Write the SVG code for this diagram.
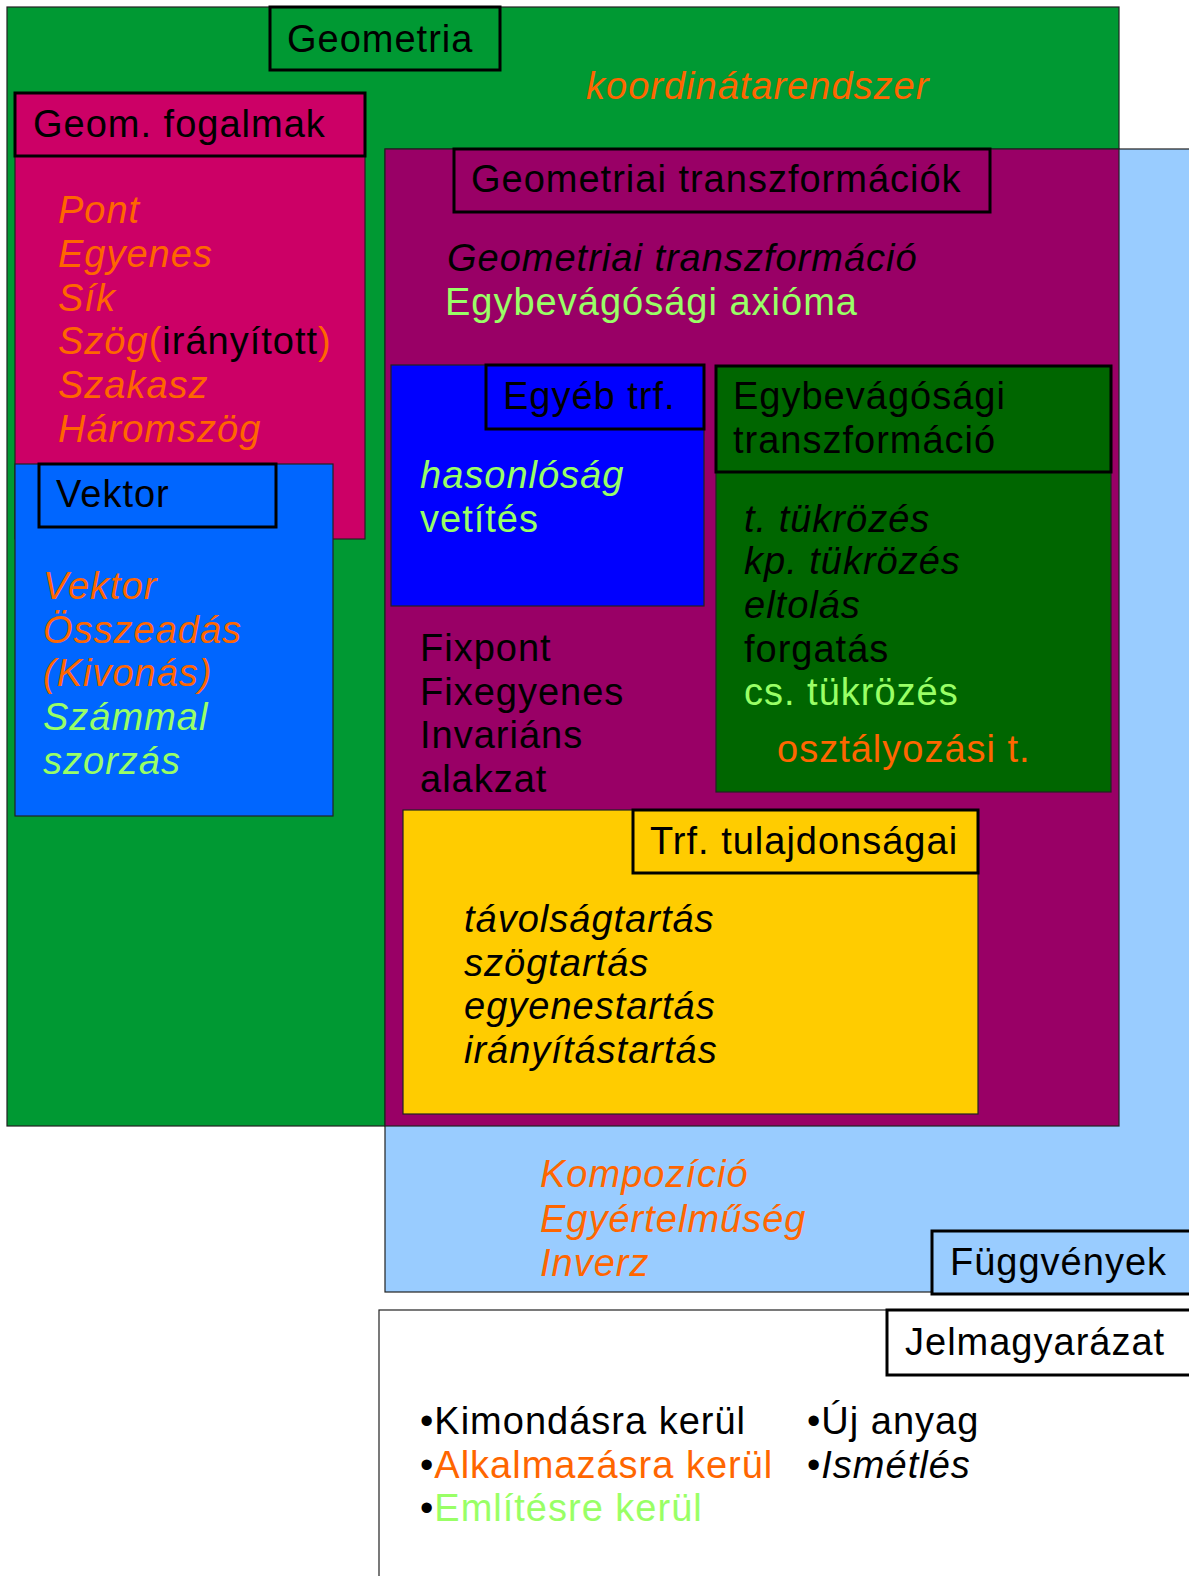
<svg xmlns="http://www.w3.org/2000/svg" width="1189" height="1576" viewBox="0 0 1189 1576">
<style>
text{font-family:"Liberation Sans",Arial,sans-serif;font-size:38px;letter-spacing:1px;fill:#000}
.i{font-style:italic}
.o{fill:#FF6600}
.g{fill:#99FF66}
.area{stroke:#222;stroke-width:1.2}
.hdr{stroke:#000;stroke-width:3}
</style>
<rect width="1189" height="1576" fill="#fff"/>
<g id="geometria">
<rect class="area" x="7" y="7" width="1112" height="1119" fill="#009933"/>
<rect class="hdr" x="270" y="7" width="230" height="63" fill="#009933"/>
<text x="287" y="52">Geometria</text>
<text class="i o" x="586" y="99">koordinátarendszer</text>
</g>
<g id="fuggvenyek">
<rect class="area" x="385" y="149" width="810" height="1143" fill="#99CCFF"/>
<text class="i o" x="540" y="1187">Kompozíció</text>
<text class="i o" x="540" y="1232">Egyértelműség</text>
<text class="i o" x="540" y="1276">Inverz</text>
<rect class="hdr" x="932" y="1231" width="262" height="63" fill="#99CCFF"/>
<text x="950" y="1275">Függvények</text>
</g>
<g id="geom-fogalmak">
<rect class="area" x="15" y="93" width="350" height="446" fill="#CC0066"/>
<rect class="hdr" x="15" y="93" width="350" height="63" fill="#CC0066"/>
<text x="33" y="137">Geom. fogalmak</text>
<text class="i o" x="58" y="223">Pont</text>
<text class="i o" x="58" y="267">Egyenes</text>
<text class="i o" x="58" y="311">Sík</text>
<text x="58" y="354"><tspan class="i o">Szög</tspan><tspan class="o">(</tspan><tspan>irányított</tspan><tspan class="o">)</tspan></text>
<text class="i o" x="58" y="398">Szakasz</text>
<text class="i o" x="58" y="442">Háromszög</text>
</g>
<g id="vektor">
<rect class="area" x="15" y="464" width="318" height="352" fill="#0066FF"/>
<rect class="hdr" x="39" y="464" width="237" height="63" fill="#0066FF"/>
<text x="56" y="507">Vektor</text>
<text class="i o" x="43" y="599">Vektor</text>
<text class="i o" x="43" y="643">Összeadás</text>
<text class="i o" x="43" y="686">(Kivonás)</text>
<text class="i g" x="43" y="730">Számmal</text>
<text class="i g" x="43" y="774">szorzás</text>
</g>
<g id="geom-transzformaciok">
<rect class="area" x="385" y="149" width="734" height="977" fill="#990066"/>
<rect class="hdr" x="454" y="149" width="536" height="63" fill="#990066"/>
<text x="471" y="192">Geometriai transzformációk</text>
<text class="i" x="447" y="271">Geometriai transzformáció</text>
<text class="g" x="445" y="315">Egybevágósági axióma</text>
<text x="420" y="661">Fixpont</text>
<text x="420" y="705">Fixegyenes</text>
<text x="420" y="748">Invariáns</text>
<text x="420" y="792">alakzat</text>
</g>
<g id="egyeb-trf">
<rect class="area" x="391" y="365" width="313" height="241" fill="#0000FF"/>
<rect class="hdr" x="486" y="365" width="218" height="64" fill="#0000FF"/>
<text x="503" y="409">Egyéb trf.</text>
<text class="i g" x="420" y="488">hasonlóság</text>
<text class="g" x="420" y="532">vetítés</text>
</g>
<g id="egybevagosagi">
<rect class="area" x="716" y="366" width="395" height="426" fill="#006600"/>
<rect class="hdr" x="716" y="366" width="395" height="106" fill="#006600"/>
<text x="733" y="409">Egybevágósági</text>
<text x="733" y="453">transzformáció</text>
<text class="i" x="744" y="532">t. tükrözés</text>
<text class="i" x="744" y="574">kp. tükrözés</text>
<text class="i" x="744" y="618">eltolás</text>
<text x="744" y="662">forgatás</text>
<text class="g" x="744" y="705">cs. tükrözés</text>
<text class="o" x="777" y="762">osztályozási t.</text>
</g>
<g id="trf-tulajdonsagai">
<rect class="area" x="403" y="810" width="575" height="304" fill="#FFCC00"/>
<rect class="hdr" x="633" y="810" width="345" height="63" fill="#FFCC00"/>
<text x="650" y="854">Trf. tulajdonságai</text>
<text class="i" x="464" y="932">távolságtartás</text>
<text class="i" x="464" y="976">szögtartás</text>
<text class="i" x="464" y="1019">egyenestartás</text>
<text class="i" x="464" y="1063">irányítástartás</text>
</g>
<g id="jelmagyarazat">
<rect class="area" x="379" y="1310" width="815" height="270" fill="#fff"/>
<rect class="hdr" x="887" y="1310" width="305" height="65" fill="#fff"/>
<text x="905" y="1355">Jelmagyarázat</text>
<text x="420" y="1434">•Kimondásra kerül</text>
<text x="420" y="1478">•<tspan class="o">Alkalmazásra kerül</tspan></text>
<text x="420" y="1521">•<tspan class="g">Említésre kerül</tspan></text>
<text x="807" y="1434">•Új anyag</text>
<text x="807" y="1478">•<tspan class="i">Ismétlés</tspan></text>
</g>
<g id="connectors"></g>
</svg>
